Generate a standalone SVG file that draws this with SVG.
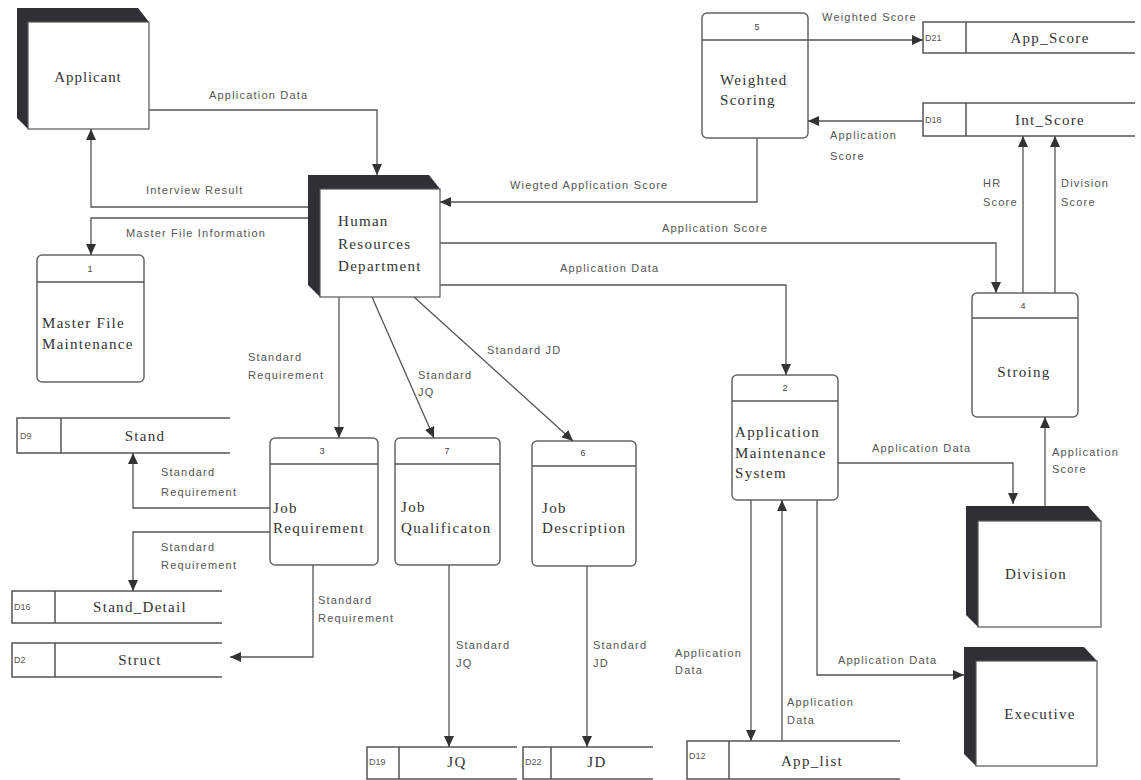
<svg xmlns="http://www.w3.org/2000/svg" width="1141" height="780" viewBox="0 0 1141 780">
<style>
.bg{fill:#ffffff}
.dark{fill:#2e3036}
.face{fill:#ffffff;stroke:#555;stroke-width:1.2}
.proc{fill:#ffffff;stroke:#666;stroke-width:1.5}
.hdr{stroke:#555;stroke-width:1.5}
.ds{fill:none;stroke:#555;stroke-width:1.5}
.conn path{fill:none;stroke:#555;stroke-width:1.3;marker-end:url(#ah)}
.nt{font-family:"Liberation Serif","DejaVu Serif",serif;font-size:15px;fill:#333;letter-spacing:1.3px}
.num{font-family:"Liberation Sans",sans-serif;font-size:9px;fill:#444}
.dsid{font-family:"Liberation Sans",sans-serif;font-size:9px;fill:#555}
.lb{font-family:"Liberation Sans",sans-serif;font-size:11px;fill:#555;letter-spacing:1.2px}
</style>
<defs>
<marker id="ah" viewBox="0 0 11 10" refX="11" refY="5" markerWidth="11" markerHeight="10" markerUnits="userSpaceOnUse" orient="auto">
<path d="M0,0 L11,5 L0,10 z" fill="#333"/>
</marker>
</defs>
<rect class="bg" x="0" y="0" width="1141" height="780"/>

<g id="applicant">
<polygon class="dark" points="17,8 138,8 149,22 149,129 28,129 17,118"/>
<rect class="face" x="28" y="22" width="121" height="107"/>
<text class="nt" x="88" y="82" text-anchor="middle" style="letter-spacing:0.9px">Applicant</text>
</g>

<g id="hr">
<polygon class="dark" points="308,175 429,175 440,189 440,297 320,297 308,285"/>
<rect class="face" x="320" y="189" width="120" height="108"/>
<text class="nt" x="338" y="226">Human</text>
<text class="nt" x="338" y="249">Resources</text>
<text class="nt" x="338" y="271">Department</text>
</g>

<g id="division">
<polygon class="dark" points="966,506 1088,506 1101,521 1101,627 978,627 966,615"/>
<rect class="face" x="978" y="521" width="123" height="106"/>
<text class="nt" x="1036" y="579" text-anchor="middle">Division</text>
</g>

<g id="executive">
<polygon class="dark" points="964,647 1084,647 1097,661 1097,766 976,766 964,754"/>
<rect class="face" x="976" y="661" width="121" height="105"/>
<text class="nt" x="1040" y="719" text-anchor="middle">Executive</text>
</g>

<g id="p1">
<rect class="proc" x="37" y="255" width="107" height="127" rx="5"/>
<line class="hdr" x1="37" y1="282" x2="144" y2="282"/>
<text class="num" x="90" y="272" text-anchor="middle">1</text>
<text class="nt" x="42" y="328">Master File</text>
<text class="nt" x="42" y="349">Maintenance</text>
</g>

<g id="p5">
<rect class="proc" x="702" y="13" width="106" height="125" rx="5"/>
<line class="hdr" x1="702" y1="40" x2="808" y2="40"/>
<text class="num" x="757" y="30" text-anchor="middle">5</text>
<text class="nt" x="720" y="85">Weighted</text>
<text class="nt" x="720" y="105">Scoring</text>
</g>

<g id="p4">
<rect class="proc" x="972" y="293" width="106" height="124" rx="5"/>
<line class="hdr" x1="972" y1="318" x2="1078" y2="318"/>
<text class="num" x="1023" y="309" text-anchor="middle">4</text>
<text class="nt" x="1024" y="377" text-anchor="middle">Stroing</text>
</g>

<g id="p2">
<rect class="proc" x="732" y="375" width="106" height="125" rx="5"/>
<line class="hdr" x1="732" y1="401" x2="838" y2="401"/>
<text class="num" x="785" y="391" text-anchor="middle">2</text>
<text class="nt" x="735" y="437">Application</text>
<text class="nt" x="735" y="458">Maintenance</text>
<text class="nt" x="735" y="478">System</text>
</g>

<g id="p3">
<rect class="proc" x="270" y="438" width="108" height="127" rx="5"/>
<line class="hdr" x1="270" y1="464" x2="378" y2="464"/>
<text class="num" x="322" y="454" text-anchor="middle">3</text>
<text class="nt" x="273" y="513">Job</text>
<text class="nt" x="273" y="533">Requirement</text>
</g>

<g id="p7">
<rect class="proc" x="395" y="438" width="105" height="127" rx="5"/>
<line class="hdr" x1="395" y1="464" x2="500" y2="464"/>
<text class="num" x="447" y="454" text-anchor="middle">7</text>
<text class="nt" x="401" y="512">Job</text>
<text class="nt" x="401" y="533">Qualificaton</text>
</g>

<g id="p6">
<rect class="proc" x="532" y="441" width="104" height="125" rx="5"/>
<line class="hdr" x1="532" y1="466" x2="636" y2="466"/>
<text class="num" x="583" y="456" text-anchor="middle">6</text>
<text class="nt" x="542" y="513">Job</text>
<text class="nt" x="542" y="533">Description</text>
</g>

<g id="d21">
<path class="ds" d="M1135,22 H923 V53 H1135 M966,22 V53"/>
<text class="dsid" x="925" y="41">D21</text>
<text class="nt" x="1050" y="43" text-anchor="middle">App_Score</text>
</g>

<g id="d18">
<path class="ds" d="M1135,103 H923 V136 H1135 M966,103 V136"/>
<text class="dsid" x="925" y="123">D18</text>
<text class="nt" x="1050" y="125" text-anchor="middle">Int_Score</text>
</g>

<g id="d9">
<path class="ds" d="M230,418 H17 V453 H230 M61,418 V453"/>
<text class="dsid" x="20" y="439">D9</text>
<text class="nt" x="145" y="441" text-anchor="middle">Stand</text>
</g>

<g id="d16">
<path class="ds" d="M222,591 H12 V623 H222 M55,591 V623"/>
<text class="dsid" x="14" y="610">D16</text>
<text class="nt" x="140" y="612" text-anchor="middle">Stand_Detail</text>
</g>

<g id="d2">
<path class="ds" d="M222,643 H12 V677 H222 M55,643 V677"/>
<text class="dsid" x="14" y="663">D2</text>
<text class="nt" x="140" y="665" text-anchor="middle">Struct</text>
</g>

<g id="d19">
<path class="ds" d="M517,747 H367 V779 H517 M399,747 V779"/>
<text class="dsid" x="369" y="765">D19</text>
<text class="nt" x="457" y="767" text-anchor="middle">JQ</text>
</g>

<g id="d22">
<path class="ds" d="M653,747 H523 V779 H653 M551,747 V779"/>
<text class="dsid" x="525" y="765">D22</text>
<text class="nt" x="597" y="767" text-anchor="middle">JD</text>
</g>

<g id="d12">
<path class="ds" d="M900,741 H687 V779 H900 M729,741 V779"/>
<text class="dsid" x="689" y="759">D12</text>
<text class="nt" x="812" y="766" text-anchor="middle">App_list</text>
</g>

<g id="conn" class="conn">
<path d="M149,110 H377 V175"/>
<path d="M308,207 H91 V129"/>
<path d="M308,218 H91 V255"/>
<path d="M757,138 V202 H440"/>
<path d="M440,243 H996 V293"/>
<path d="M440,285 H786 V375"/>
<path d="M808,40 H923"/>
<path d="M923,121 H808"/>
<path d="M1023,293 V136"/>
<path d="M1055,293 V136"/>
<path d="M339,297 V438"/>
<path d="M372,297 L434,438"/>
<path d="M414,297 L573,441"/>
<path d="M270,508 H133 V453"/>
<path d="M270,532 H133 V591"/>
<path d="M313,565 V657 H230"/>
<path d="M449,565 V747"/>
<path d="M587,566 V747"/>
<path d="M751,500 V741"/>
<path d="M782,741 V500"/>
<path d="M838,463 H1013 V504"/>
<path d="M1045,506 V417"/>
<path d="M817,500 V675 H964"/>
</g>

<g id="conn-labels">
<text class="lb" x="209" y="99">Application Data</text>
<text class="lb" x="146" y="194">Interview Result</text>
<text class="lb" x="126" y="237">Master File Information</text>
<text class="lb" x="510" y="189">Wiegted Application Score</text>
<text class="lb" x="662" y="232">Application Score</text>
<text class="lb" x="560" y="272">Application Data</text>
<text class="lb" x="822" y="21">Weighted Score</text>
<text class="lb" x="830" y="139">Application</text>
<text class="lb" x="830" y="160">Score</text>
<text class="lb" x="983" y="187">HR</text>
<text class="lb" x="983" y="206">Score</text>
<text class="lb" x="1061" y="187">Division</text>
<text class="lb" x="1061" y="206">Score</text>
<text class="lb" x="248" y="361">Standard</text>
<text class="lb" x="248" y="379">Requirement</text>
<text class="lb" x="418" y="379">Standard</text>
<text class="lb" x="418" y="396">JQ</text>
<text class="lb" x="487" y="354">Standard JD</text>
<text class="lb" x="161" y="476">Standard</text>
<text class="lb" x="161" y="496">Requirement</text>
<text class="lb" x="161" y="551">Standard</text>
<text class="lb" x="161" y="569">Requirement</text>
<text class="lb" x="318" y="604">Standard</text>
<text class="lb" x="318" y="622">Requirement</text>
<text class="lb" x="456" y="649">Standard</text>
<text class="lb" x="456" y="667">JQ</text>
<text class="lb" x="593" y="649">Standard</text>
<text class="lb" x="593" y="667">JD</text>
<text class="lb" x="675" y="657">Application</text>
<text class="lb" x="675" y="674">Data</text>
<text class="lb" x="787" y="706">Application</text>
<text class="lb" x="787" y="724">Data</text>
<text class="lb" x="872" y="452">Application Data</text>
<text class="lb" x="1052" y="456">Application</text>
<text class="lb" x="1052" y="473">Score</text>
<text class="lb" x="838" y="664">Application Data</text>
</g>
</svg>
